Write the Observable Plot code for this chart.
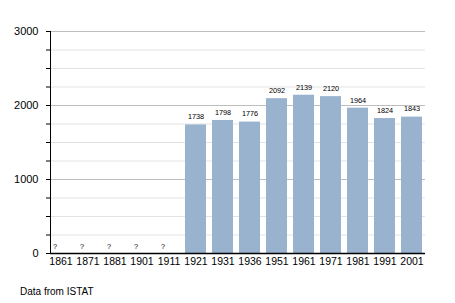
<!DOCTYPE html>
<html>
<head>
<meta charset="utf-8">
<script src="https://cdn.jsdelivr.net/npm/d3@7"></script>
<script src="https://cdn.jsdelivr.net/npm/@observablehq/plot@0.6"></script>
<style>
  body { margin: 0; background: #fff; font-family: "Liberation Sans", Arial, sans-serif; }
  figure { margin: 0; }
  figcaption { font-family: "Liberation Sans", Arial, sans-serif; font-size: 10px; color: #000; margin: 6px 0 0 20px; }
</style>
</head>
<body>
<div id="chart"></div>
<script>
const years = ["1861","1871","1881","1901","1911","1921","1931","1936","1951","1961","1971","1981","1991","2001"];
const population = [null,null,null,null,null,1738,1798,1776,2092,2139,2120,1964,1824,1843];
const majorTicks = [0,1000,2000,3000];
const minorTicks = d3.range(0, 3001, 250);
const caption = "Data from ISTAT";

const data = years.map((y, i) => ({year: y, pop: population[i]}));
const known = data.filter(d => d.pop != null);
const unknown = data.filter(d => d.pop == null);

const chart = Plot.plot({
  width: 455,
  height: 280,
  marginLeft: 50,
  marginRight: 30,
  marginTop: 31,
  marginBottom: 27,
  style: {fontFamily: "Liberation Sans, Arial, sans-serif", color: "#000", background: "#fff"},
  x: {domain: years, range: [44.4, 427.7], paddingInner: 0.23, paddingOuter: 0.115, label: null},
  y: {domain: [0, 3000], label: null},
  caption: caption,
  marks: [
    Plot.ruleY(minorTicks.filter(t => t % 1000 !== 0), {stroke: "#e3e3e3", strokeWidth: 1}),
    Plot.ruleY(majorTicks.filter(t => t !== 0), {stroke: "#bdbdbd", strokeWidth: 1}),
    Plot.barY(known, {x: "year", y: "pop", fill: "#99b3cf"}),
    Plot.text(known, {x: "year", y: "pop", text: d => String(d.pop), dy: -8, fontSize: 7.3, fill: "#000"}),
    Plot.text(unknown, {x: "year", y: () => 0, text: () => "?", dy: -7, dx: -6, fontSize: 7.3, fill: "#000"}),
    Plot.ruleY([0], {stroke: "#000", strokeWidth: 1.5}),
    Plot.frame({anchor: "left", stroke: "#000"}),
    Plot.axisY({ticks: minorTicks, tickSize: 4, text: null, stroke: "#000"}),
    Plot.axisY({ticks: majorTicks, tickSize: 4, tickPadding: 8, fontSize: 11, tickFormat: d => String(d), stroke: "#000"}),
    Plot.axisX({tickSize: 0, tickPadding: 4, fontSize: 10.5})
  ]
});
document.getElementById("chart").appendChild(chart);
</script>
</body>
</html>
